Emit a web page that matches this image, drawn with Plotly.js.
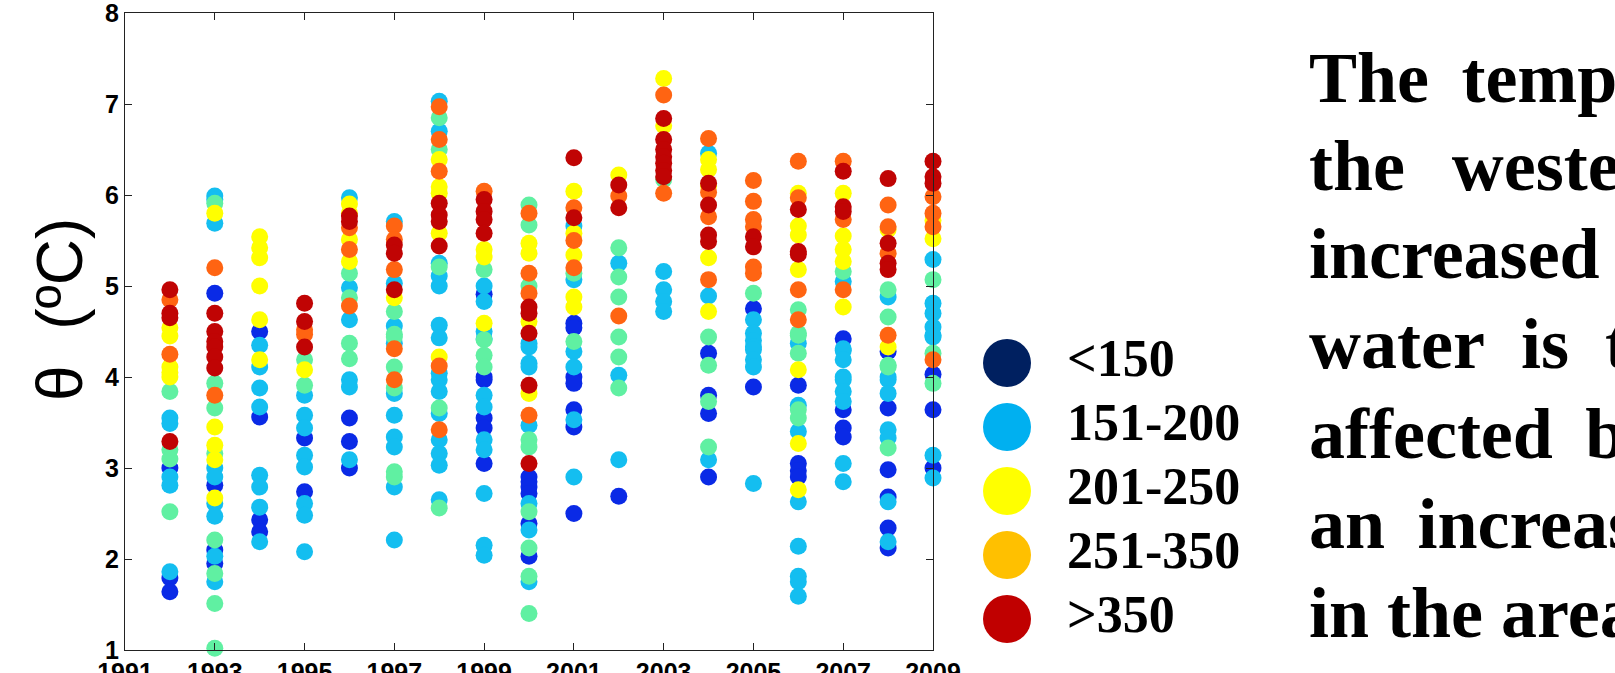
<!DOCTYPE html>
<html><head><meta charset="utf-8">
<script src="https://cdn.plot.ly/plotly-3.0.1.min.js"></script>
<style>html,body{margin:0;padding:0;overflow:hidden;background:#fff}#chart{width:1615px;height:673px}</style>
</head><body><div id="chart"></div>
<script>
// ---- data ----
const years = [1992,1993,1994,1995,1996,1997,1998,1999,2000,2001,2002,2003,2004,2005,2006,2007,2008,2009];

const blueVals = [
  [3.0,1.79,1.64],[4.92,2.81,2.10,1.95],[4.50,3.56,2.43,2.30],[3.33,2.74],[3.55,3.29,3.0],[],[],
  [4.91,4.0,3.97,3.55,3.44,3.05],[2.90,2.85,2.79,2.72,2.39,2.03],[4.59,4.54,4.0,3.93,3.64,3.45,2.50],
  [2.69],[],[4.26,3.80,3.60,2.90],[4.75,3.89],[3.91,3.05,2.97,2.90],[4.42,3.64,3.44,3.34],
  [4.28,3.66,2.98,2.68,2.34,2.12],[4.03,3.64,3.0]
];
const cyanVals = [
  [3.55,3.49,2.90,2.81,1.86],[5.99,5.95,5.69,3.0,2.9,2.61,2.47,2.03,1.75],
  [4.35,4.11,3.88,3.67,2.92,2.79,2.57,2.19],[3.80,3.58,3.44,3.14,3.01,2.61,2.48,2.08],
  [5.97,4.98,4.63,3.97,3.89,3.09],[5.71,5.03,4.56,4.37,3.82,3.58,3.34,3.23,2.79,2.21],
  [7.03,6.70,5.25,5.11,5.0,4.57,4.43,4.04,3.97,3.84,3.60,3.31,3.16,3.03,2.65],
  [5.0,4.83,4.50,4.42,3.80,3.67,3.31,3.20,2.72,2.15,2.04],[4.37,4.33,4.15,4.11,3.47,2.61,2.32,1.75],
  [5.66,5.07,4.28,4.11,3.53,2.90],[5.25,4.02,3.09],[5.16,4.96,4.83,4.72],[6.46,4.89,3.09],
  [4.63,4.48,4.40,4.33,4.30,4.19,4.11,2.83],[4.37,3.69,3.40,2.63,2.14,1.81,1.75,1.59],
  [5.05,4.31,4.29,4.19,4.00,3.97,3.84,3.73,3.05,2.85],[4.88,4.0,3.97,3.82,3.42,3.33,2.63,2.19],
  [5.29,4.81,4.70,4.55,4.46,4.44,3.14,2.89]
];
const aquaVals = [
  [3.84,3.20,3.10,2.52],[5.91,3.93,3.66,3.16,2.21,1.84,1.51,1.02],[],[4.19,3.91],[5.14,4.87,4.37,4.20],
  [4.72,4.47,4.44,4.11,3.88,2.96,2.90],[6.85,6.50,5.21,3.66,2.56],[5.18,4.41,4.24,4.11],
  [5.89,5.67,5.0,3.31,3.23,2.52,2.12,1.81,1.40],[5.14,4.39],[5.42,5.10,4.88,4.44,4.22,3.88],[6.17],
  [4.44,4.13,3.73,3.23],[4.92],[4.74,4.48,4.46,4.26,3.64,3.55],[5.16],[4.96,4.66,4.13,4.11,3.22],
  [5.07,4.26,3.93]
];
const yellowVals = [
  [4.54,4.45,4.11,4.05,4.0],[5.80,3.45,3.25,3.09,2.67],[5.54,5.42,5.31,5.0,4.63,4.19],[4.08],
  [5.90,5.80,5.51,5.27],[4.87],[6.39,6.09,6.02,5.58,4.22],[5.40,5.32,4.59],[5.47,5.36,4.61,3.82],
  [6.04,5.58,5.34,4.88,4.77],[6.22],[7.28,6.76],[6.39,6.28,6.10,5.31,4.72],[],
  [6.02,5.66,5.56,5.18,4.08,3.27,2.76],[6.02,5.55,5.40,5.27,4.77],[5.62,4.33],[5.72,5.52]
];
const orangeVals = [
  [4.85,4.25],[5.20,3.80],[],[4.52,4.47],[5.64,5.40,4.78],[5.66,5.51,5.18,4.31,3.97],
  [6.97,6.61,6.26,4.12,3.42],[6.04],[5.80,5.14,4.92,3.58],[5.86,5.50,5.20],[5.99,4.67],[7.10,6.02],
  [6.62,6.03,5.76,5.07],[6.16,5.93,5.73,5.65,5.21,5.14],[6.37,5.97,4.96,4.63],[6.37,5.73,4.96],
  [5.89,5.65,5.36,4.46],[5.98,5.80,5.65,4.19]
];
const redVals = [
  [4.96,4.70,4.65,3.29],[4.70,4.50,4.39,4.33,4.22,4.10],[],[4.81,4.61,4.33],[5.77,5.71],[5.45,5.36,4.96],
  [5.91,5.78,5.71,5.44],[5.95,5.82,5.73,5.58],[4.77,4.70,4.48,3.91,3.05],[6.41,5.75],[6.11,5.86],
  [6.84,6.61,6.50,6.42,6.35,6.27,6.20],[6.13,5.89,5.56,5.49],[5.54,5.43],[5.84,5.38,5.35],
  [6.26,5.87,5.82],[6.18,5.47,5.25,5.18],[6.37,6.20,6.13]
];
const seriesVals = [blueVals, cyanVals, aquaVals, yellowVals, orangeVals, redVals];
const seriesColors = ['#0A2AE6', '#14BEF0', '#60F0A2', '#FFFF00', '#FF6412', '#C00404'];

const legendLabels = ['<150', '151-200', '201-250', '251-350', '>350'];
const legendColors = ['#002060', '#00B0F0', '#FFFF00', '#FFC000', '#C00000'];

const yTitle = 'θ\u00a0\u00a0(ºC)';
const noteLines = ['The\u00a0\u2009temperature', 'the\u00a0\u2009\u2009western', 'increased', 'water\u2002is\u2002the',
                   'af\u200cfected\u00a0\u2009by', 'an\u00a0\u2009increase', 'in the area'];

// ---- build ----
const W = 1615, H = 673;
function flatten(vals) {
  const xs = [], ys = [];
  vals.forEach((arr, i) => arr.forEach(v => { xs.push(years[i]); ys.push(v); }));
  return {xs, ys};
}
const traces = seriesVals.map((vals, k) => {
  const f = flatten(vals);
  return {
    type: 'scatter', mode: 'markers', x: f.xs, y: f.ys, cliponaxis: false,
    marker: {size: 17, color: seriesColors[k], line: {width: 0}},
    hoverinfo: 'x+y', showlegend: false, xaxis: 'x', yaxis: 'y'
  };
});
const legIdx = legendLabels.map((_, i) => i);
traces.push({
  type: 'scatter', mode: 'markers', x: legIdx.map(() => 0), y: legIdx,
  marker: {size: 48, color: legendColors, line: {width: 0}},
  xaxis: 'x2', yaxis: 'y2', showlegend: false, hoverinfo: 'skip', cliponaxis: false
});
traces.push({
  type: 'scatter', mode: 'text', x: legIdx.map(() => 1), y: legIdx, text: legendLabels,
  textposition: 'middle right',
  textfont: {family: 'Liberation Serif, Times New Roman, serif', size: 52, weight: 'bold', color: '#000'},
  xaxis: 'x2', yaxis: 'y2', showlegend: false, hoverinfo: 'skip', cliponaxis: false
});

const tickFont = {family: 'Liberation Sans, Arial, sans-serif', size: 25, weight: 'bold', color: '#000'};
const axisCommon = {
  showline: true, linecolor: '#222', linewidth: 1, mirror: 'ticks',
  ticks: 'inside', ticklen: 7, tickcolor: '#222', tickwidth: 1, ticklabeloverflow: 'allow',
  showgrid: false, zeroline: false, tickfont: tickFont, fixedrange: true, automargin: false
};
const annotations = [{
  xref: 'paper', yref: 'paper', x: 60 / W, y: 1 - 310 / H, xanchor: 'center', yanchor: 'middle',
  text: yTitle, textangle: -90, showarrow: false,
  font: {family: 'Liberation Sans, Arial, sans-serif', size: 64, color: '#000'}
}];
const baselines = [102, 190, 278, 368, 458, 548, 637];
noteLines.forEach((t, i) => annotations.push({
  xref: 'paper', yref: 'paper', x: 1307 / W, y: 1 - (baselines[i] - 24) / H,
  xanchor: 'left', yanchor: 'middle', text: t, showarrow: false,
  font: {family: 'Liberation Serif, Times New Roman, serif', size: 72, weight: 'bold', color: '#000'}
}));

const layout = {
  width: W, height: H, margin: {l: 0, r: 0, t: 0, b: 0},
  paper_bgcolor: '#fff', plot_bgcolor: '#fff', showlegend: false,
  xaxis: Object.assign({}, axisCommon, {domain: [125 / W, 933 / W], range: [1991, 2009], tick0: 1991, dtick: 2, anchor: 'y'}),
  yaxis: Object.assign({}, axisCommon, {domain: [(H - 650) / H, (H - 13) / H], range: [1, 8], dtick: 1, anchor: 'x'}),
  xaxis2: {domain: [940 / W, 1], range: [-67 / 60, (W - 940 - 67) / 60], visible: false, anchor: 'y2', fixedrange: true},
  yaxis2: {domain: [0, 1], range: [(H - 363) / 64, -363 / 64], visible: false, anchor: 'x2', fixedrange: true},
  annotations: annotations
};
Plotly.newPlot('chart', traces, layout, {staticPlot: true, displayModeBar: false});
</script></body></html>
